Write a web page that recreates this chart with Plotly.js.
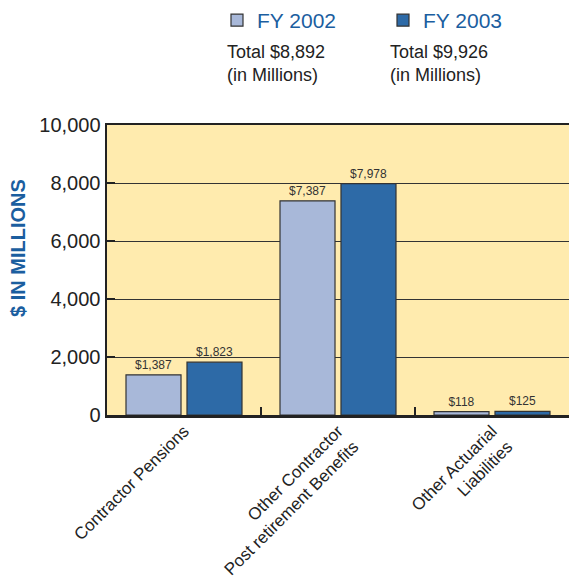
<!DOCTYPE html>
<html>
<head>
<meta charset="utf-8">
<script src="https://cdn.plot.ly/plotly-3.0.1.min.js"></script>
<style>
html,body{margin:0;padding:0;background:#fff;}
#chart{width:569px;height:578px;}
</style>
</head>
<body>
<div id="chart"></div>
<script>
const categories = ["Contractor Pensions", "Other Contractor<br>Post retirement Benefits", "Other Actuarial<br>Liabilities"];
const seriesNames = ["FY 2002", "FY 2003"];
const fy2002 = [1387, 7387, 118];
const fy2003 = [1823, 7978, 125];
const yTickVals = [0, 2000, 4000, 6000, 8000, 10000];
const yTickText = ["0", "2,000", "4,000", "6,000", "8,000", "10,000"];

const FONT = '"Liberation Sans", Arial, sans-serif';
const fmt = v => '$' + v.toLocaleString('en-US');
const sum = a => a.reduce((s, v) => s + v, 0);

const colors = ['#A8B8D9', '#2D6AA7'];
const traces = [fy2002, fy2003].map((vals, i) => ({
  type: 'bar',
  name: seriesNames[i],
  x: categories,
  y: vals,
  text: vals.map(fmt),
  textposition: 'outside',
  cliponaxis: false,
  textfont: {family: FONT, size: 12, color: '#333'},
  marker: {color: colors[i], line: {color: '#333', width: 1.2}},
  hoverinfo: 'skip'
}));

const totals = [sum(fy2002), sum(fy2003)];
const W = 462, H = 290, L = 107, T = 125;
const px = x => (x - L) / W;
const py = y => (T + H - y) / H;

const layout = {
  width: 569, height: 578,
  margin: {l: 107, r: 0, t: 125, b: 163},
  paper_bgcolor: '#ffffff',
  plot_bgcolor: '#FFEBAE',
  barmode: 'group',
  bargap: 0.208,
  bargroupgap: 0.098,
  showlegend: true,
  legend: {
    orientation: 'h', x: px(217), xanchor: 'left', y: py(0), yanchor: 'top',
    entrywidth: 121, entrywidthmode: 'pixels',
    font: {family: FONT, size: 21, color: '#1B5E9F'},
    itemclick: false, itemdoubleclick: false
  },
  xaxis: {
    type: 'category',
    range: [-0.5, 2.5],
    showline: true, linecolor: '#222', linewidth: 2.5, mirror: true,
    ticks: 'inside', tickson: 'boundaries', ticklen: 8, tickwidth: 2, tickcolor: '#222',
    tickangle: -45,
    ticklabelstandoff: -3,
    tickfont: {family: FONT, size: 17, color: '#222'},
    showgrid: false,
    fixedrange: true
  },
  yaxis: {
    range: [0, 10000],
    tickvals: yTickVals, ticktext: yTickText,
    showline: true, linecolor: '#222', linewidth: 2.5,
    ticks: 'inside', ticklen: 8, tickwidth: 2, tickcolor: '#222',
    showgrid: true, gridcolor: '#333', gridwidth: 1,
    zeroline: false,
    tickfont: {family: FONT, size: 20, color: '#222'},
    fixedrange: true
  },
  annotations: totals.map((t, i) => ({
    xref: 'paper', yref: 'paper',
    x: px(225 + i * 163), y: py(40),
    xanchor: 'left', yanchor: 'top', align: 'left',
    showarrow: false,
    text: 'Total ' + fmt(t) + '<br>(in Millions)',
    font: {family: FONT, size: 18, color: '#222'}
  })).concat([{
    xref: 'paper', yref: 'paper',
    x: px(18), y: py(248), xanchor: 'center', yanchor: 'middle',
    textangle: -90, showarrow: false,
    text: '$ IN MILLIONS',
    font: {family: FONT, size: 20, color: '#1B5E9F', weight: 'bold'}
  }])
};

Plotly.newPlot('chart', traces, layout, {displayModeBar: false, staticPlot: true});
</script>
</body>
</html>
